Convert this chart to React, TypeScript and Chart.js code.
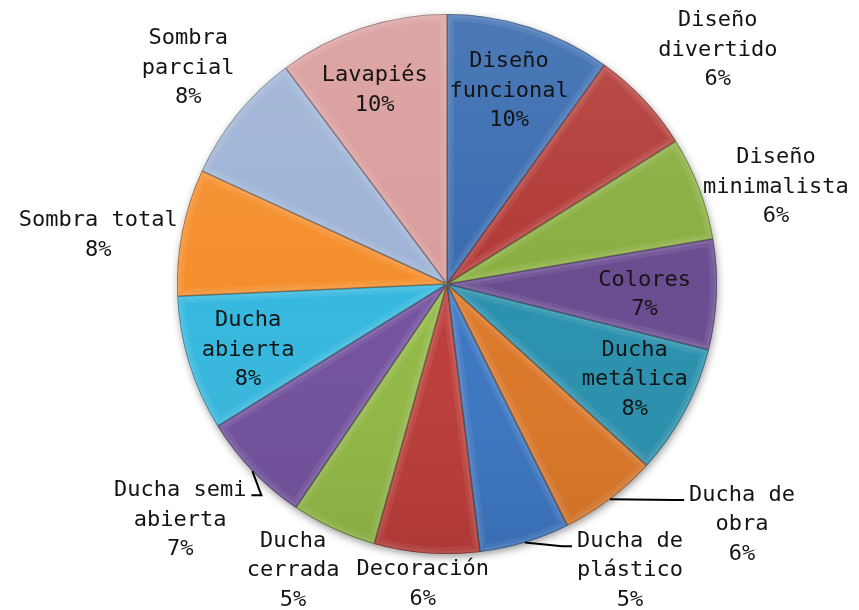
import React, { useEffect, useRef } from 'react';
import { Chart, registerables } from 'chart.js';

Chart.register(...registerables);

// ---- data ----
const categories: string[][] = [
  ['Diseño', 'funcional'],
  ['Diseño', 'divertido'],
  ['Diseño', 'minimalista'],
  ['Colores'],
  ['Ducha', 'metálica'],
  ['Ducha de', 'obra'],
  ['Ducha de', 'plástico'],
  ['Decoración'],
  ['Ducha', 'cerrada'],
  ['Ducha semi', 'abierta'],
  ['Ducha', 'abierta'],
  ['Sombra total'],
  ['Sombra', 'parcial'],
  ['Lavapiés'],
];

const values: number[] = [9.9, 6.2, 6.2, 6.6, 7.8, 5.9, 5.4, 6.3, 5.1, 6.7, 8.1, 7.6, 7.9, 10.2];

const colors: string[] = [
  '#386BB0', '#B23A36', '#8AAE40', '#6A4C91', '#2A91AE', '#DC7828', '#3C76C2',
  '#BC3D39', '#92B945', '#73519E', '#36B8DE', '#F58F2D', '#9EB3D6', '#D99C9B',
];

// label placement relative to each slice (radius factor, angle shift in degrees)
const labelLayout = [
  { d: 0.75, da: 0 },
  { d: 1.326, da: 2.3 },
  { d: 1.27, da: 4.4 },
  { d: 0.733, da: 0.9 },
  { d: 0.78, da: -1.2 },
  { d: 1.41, da: -13.7, leader: true },
  { d: 1.26, da: -15.8, leader: true },
  { d: 1.115, da: 0.3 },
  { d: 1.204, da: 3.4 },
  { d: 1.319, da: 2.4, leader: true },
  { d: 0.776, da: -1.1 },
  { d: 1.304, da: -3.1 },
  { d: 1.248, da: 0.8 },
  { d: 0.765, da: -2.1 },
];

const FONT = '22px "DejaVu Sans Mono", "Liberation Mono", monospace';
const LINE_H = 29.5;

const piePlugin = {
  id: 'pieDecor',
  beforeDatasetsDraw(chart: any) {
    const meta = chart.getDatasetMeta(0);
    const a = meta.data[0];
    if (!a) return;
    const { x, y, outerRadius } = a.getProps(['x', 'y', 'outerRadius'], true);
    const ctx = chart.ctx;
    ctx.save();
    ctx.shadowColor = 'rgba(0,0,0,0.45)';
    ctx.shadowBlur = 9;
    ctx.shadowOffsetX = 1;
    ctx.shadowOffsetY = 3;
    ctx.fillStyle = '#777';
    ctx.beginPath();
    ctx.arc(x, y, outerRadius - 1, 0, Math.PI * 2);
    ctx.fill();
    ctx.restore();
  },
  afterDatasetsDraw(chart: any) {
    const ctx = chart.ctx;
    const meta = chart.getDatasetMeta(0);
    const total = values.reduce((s, v) => s + v, 0);
    let cx = 0, cy = 0, R = 0;
    meta.data.forEach((arc: any) => {
      const p = arc.getProps(['x', 'y', 'startAngle', 'endAngle', 'outerRadius'], true);
      cx = p.x; cy = p.y; R = p.outerRadius;
      ctx.save();
      ctx.beginPath();
      ctx.moveTo(p.x, p.y);
      ctx.arc(p.x, p.y, p.outerRadius, p.startAngle, p.endAngle);
      ctx.closePath();
      ctx.clip();
      ctx.lineJoin = 'round';
      ctx.strokeStyle = 'rgba(255,255,255,0.07)';
      ctx.lineWidth = 14;
      ctx.stroke();
      ctx.strokeStyle = 'rgba(255,255,255,0.08)';
      ctx.lineWidth = 7;
      ctx.stroke();
      ctx.strokeStyle = 'rgba(0,0,0,0.35)';
      ctx.lineWidth = 1.6;
      ctx.stroke();
      ctx.restore();
    });
    // overall shading
    ctx.save();
    ctx.beginPath();
    ctx.arc(cx, cy, R, 0, Math.PI * 2);
    ctx.clip();
    const g = ctx.createLinearGradient(0, cy - R, 0, cy + R);
    g.addColorStop(0, 'rgba(255,255,255,0.10)');
    g.addColorStop(0.5, 'rgba(255,255,255,0)');
    g.addColorStop(1, 'rgba(0,0,0,0.08)');
    ctx.fillStyle = g;
    ctx.fillRect(cx - R, cy - R, 2 * R, 2 * R);
    ctx.restore();

    // labels
    ctx.save();
    ctx.font = FONT;
    ctx.fillStyle = '#141414';
    ctx.textAlign = 'center';
    ctx.textBaseline = 'middle';
    meta.data.forEach((arc: any, i: number) => {
      const p = arc.getProps(['x', 'y', 'startAngle', 'endAngle', 'outerRadius'], true);
      const mid = (p.startAngle + p.endAngle) / 2;
      const lay = labelLayout[i];
      const ang = mid + (lay.da * Math.PI) / 180;
      const lx = p.x + Math.cos(ang) * p.outerRadius * lay.d;
      const ly = p.y + Math.sin(ang) * p.outerRadius * lay.d;
      const lines = [...categories[i], Math.round((values[i] / total) * 100) + '%'];
      const top = ly - ((lines.length - 1) * LINE_H) / 2;
      lines.forEach((t, k) => {
        ctx.fillText(t, lx, top + k * LINE_H);
      });
      if (lay.leader) {
        const sx = p.x + Math.cos(mid) * p.outerRadius;
        const sy = p.y + Math.sin(mid) * p.outerRadius;
        const w0 = ctx.measureText(lines[0]).width;
        const right = lx > p.x;
        const ex = right ? lx - w0 / 2 - 5 : lx + w0 / 2 + 5;
        const ey = top + 5;
        const bx = right ? ex - 10 : ex + 10;
        ctx.strokeStyle = '#000';
        ctx.lineWidth = 2;
        ctx.beginPath();
        ctx.moveTo(sx, sy);
        ctx.lineTo(bx, ey);
        ctx.lineTo(ex, ey);
        ctx.stroke();
      }
    });
    ctx.restore();
  },
};

export default function App() {
  const ref = useRef<HTMLCanvasElement | null>(null);
  useEffect(() => {
    if (!ref.current) return;
    const chart = new Chart(ref.current, {
      type: 'pie',
      data: {
        labels: categories,
        datasets: [
          {
            data: values,
            backgroundColor: colors,
            borderWidth: 0,
          },
        ],
      },
      options: {
        responsive: false,
        animation: false,
        radius: 270,
        layout: { padding: { top: 14, bottom: 56, left: 35, right: 0 } },
        plugins: {
          legend: { display: false },
          tooltip: { enabled: false },
        },
      } as any,
      plugins: [piePlugin],
    });
    return () => chart.destroy();
  }, []);
  return (
    <div style={{ position: 'absolute', left: 0, top: 0, width: 859, height: 610, background: '#fff' }}>
      <canvas ref={ref} width={859} height={610} style={{ width: 859, height: 610, display: 'block' }} />
    </div>
  );
}
